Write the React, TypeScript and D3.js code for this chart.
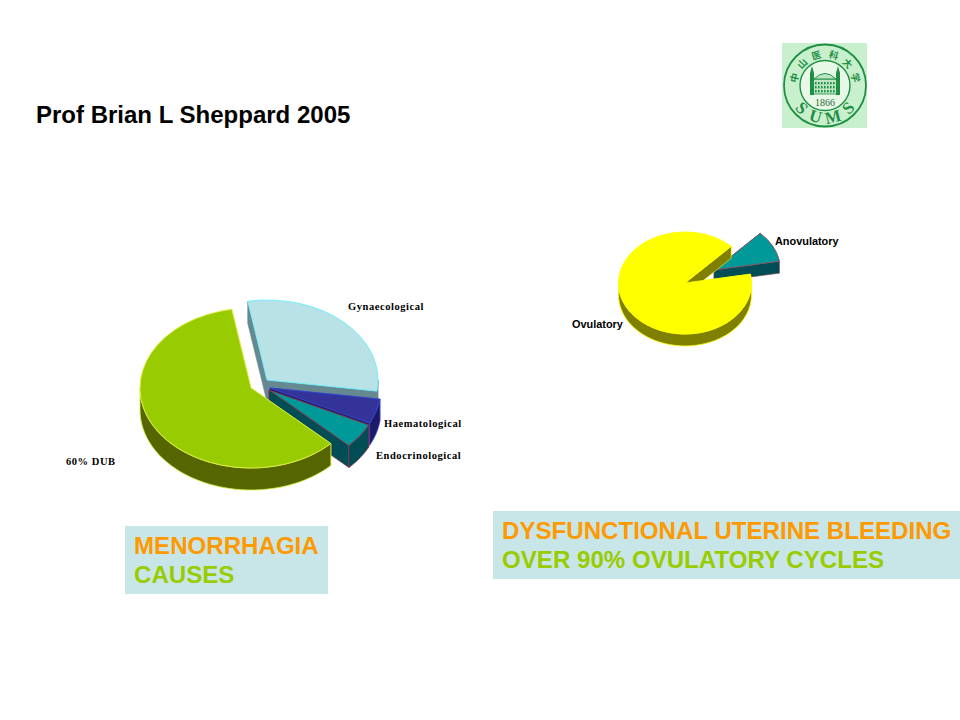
import * as d3 from 'd3';

// left pie
const causeLabels = ['Gynaecological', 'Haematological', 'Endocrinological', '60% DUB'];
const causeValues = [30, 5, 5, 60];
const causeShiftX = [16, 19, 18, 0];
const causeShiftY = [-8, 0, 2, 0];
const causeTop = ['#b8e2e6', '#333399', '#009999', '#99cc00'];
const causeSide = ['#668890', '#1a1a66', '#004d55', '#556600'];
const causeEdge = ['#66eeff', '#3344cc', '#8a3048', '#ddee44'];
const causeSideEdge = ['#668890', '#3344cc', '#8a3048', '#ddee44'];

// right pie
const cycleLabels = ['Anovulatory', 'Ovulatory'];
const cycleValues = [10, 90];
const cycleShiftX = [29, 0];
const cycleShiftY = [-13, 0];
const cycleTop = ['#009999', '#ffff00'];
const cycleSide = ['#004d55', '#808000'];
const cycleEdge = ['#8a5060', '#ffff00'];

// seal
const sealChars = ['中', '山', '医', '科', '大', '学'];
const sealCharAngles = [-76, -46, -16, 16, 46, 76];
const sealLetters = ['S', 'U', 'M', 'S'];
const sealLetterAngles = [46, 17, -14, -46];
const sealYear = '1866';

const deg = Math.PI / 180;

interface Pie3DProps {
  values: number[];
  shiftX: number[];
  shiftY: number[];
  top: string[];
  side: string[];
  edge: string[];
  sideEdge: string[];
  startDeg: number;
  cx: number;
  cy: number;
  rx: number;
  ry: number;
  depth: number;
}

const Pie3D = ({ values, shiftX, shiftY, top, side, edge, sideEdge, startDeg, cx, cy, rx, ry, depth }: Pie3DProps) => {
  const slices = d3
    .pie<number>()
    .sort(null)
    .startAngle(startDeg * deg)
    .endAngle((startDeg + 360) * deg)(values);
  const arc = d3.arc<d3.PieArcDatum<number>>().innerRadius(0).outerRadius(rx);
  const line = d3.line();

  return (
    <g>
      {slices.map((s, i) => {
        const ox = cx + shiftX[i];
        const oy = cy + shiftY[i];
        const at = (a: number, dz = 0): [number, number] => [
          ox + rx * Math.sin(a),
          oy - ry * Math.cos(a) + dz,
        ];
        const apex: [number, number] = [ox, oy];
        const apexLow: [number, number] = [ox, oy + depth];
        // the outer wall only shows on the front half of the ellipse
        const from = Math.max(s.startAngle, 90 * deg);
        const to = Math.min(s.endAngle, 270 * deg);
        const steps = d3.range(0, 41).map(k => from + ((to - from) * k) / 40);
        const rim =
          to > from
            ? line([...steps.map(a => at(a)), ...steps.slice().reverse().map(a => at(a, depth))]) + 'Z'
            : null;
        const wall = (a: number) => line([apex, at(a), at(a, depth), apexLow]) + 'Z';
        return (
          <g key={i}>
            <path d={wall(s.startAngle)} fill={side[i]} stroke={sideEdge[i]} strokeWidth={0.6} />
            <path d={wall(s.endAngle)} fill={side[i]} stroke={sideEdge[i]} strokeWidth={0.6} />
            {rim && <path d={rim} fill={side[i]} stroke={sideEdge[i]} strokeWidth={0.8} />}
            <g transform={`translate(${ox},${oy}) scale(1,${ry / rx})`}>
              <path
                d={arc(s) as string}
                fill={top[i]}
                stroke={edge[i]}
                strokeWidth={0.9}
                vectorEffect="non-scaling-stroke"
              />
            </g>
          </g>
        );
      })}
    </g>
  );
};

const logoCx = 825;
const logoCy = 85.5;

const Logo = () => {
  const green = '#1f8f45';
  const windowX = d3.range(815, 835, 3);
  const windowY = [82, 86, 90];
  return (
    <g>
      <rect x={782} y={43} width={85} height={85} fill="#c9f0cc" />
      <circle cx={logoCx} cy={logoCy} r={41} fill="none" stroke={green} strokeWidth={1.8} />
      <circle cx={logoCx} cy={logoCy} r={25} fill="#e8f8e6" stroke={green} strokeWidth={1.4} />
      {sealChars.map((c, i) => (
        <text
          key={i}
          x={logoCx}
          y={logoCy - 28}
          textAnchor="middle"
          fontFamily="'Noto Sans CJK SC'"
          fontSize={9.5}
          fontWeight={700}
          fill={green}
          transform={`rotate(${sealCharAngles[i]},${logoCx},${logoCy})`}
        >
          {c}
        </text>
      ))}
      {sealLetters.map((c, i) => (
        <text
          key={i}
          x={logoCx}
          y={logoCy + 38}
          textAnchor="middle"
          fontFamily="'Liberation Serif'"
          fontSize={17}
          fontWeight={700}
          fill={green}
          transform={`rotate(${sealLetterAngles[i]},${logoCx},${logoCy})`}
        >
          {c}
        </text>
      ))}
      {/* building */}
      <rect x={813} y={79} width={24} height={15} fill="#bfe6c2" stroke={green} strokeWidth={0.8} />
      {windowY.map(y =>
        windowX.map(x => <rect key={`${x}-${y}`} x={x} y={y} width={1.6} height={2.4} fill={green} />),
      )}
      <rect x={810} y={73} width={4} height={22} fill={green} />
      <rect x={836} y={73} width={4} height={22} fill={green} />
      <path d="M812,66L810,73H814ZM838,66L836,73H840Z" fill={green} />
      <path d="M814,79Q825,68 836,79Z" fill="#bfe6c2" stroke={green} strokeWidth={1} />
      <text
        x={logoCx}
        y={106}
        textAnchor="middle"
        fontFamily="'Liberation Serif'"
        fontSize={10}
        fill="#2a6a3a"
      >
        {sealYear}
      </text>
    </g>
  );
};

const serifLabel = {
  fontFamily: "'Liberation Serif'",
  fontSize: 10.5,
  fontWeight: 700,
  letterSpacing: 0.55,
};
const sansLabel = { fontFamily: "'Liberation Sans'", fontSize: 10.9, fontWeight: 700 };
const boxText = { fontFamily: "'Liberation Sans'", fontSize: 24.1, fontWeight: 700 };

const App = () => (
  <svg
    width={960}
    height={720}
    viewBox="0 0 960 720"
    style={{ position: 'absolute', left: 0, top: 0, background: '#fff' }}
  >
    <text x={36} y={123} fontFamily="'Liberation Sans'" fontSize={24} fontWeight={700} fill="#000">
      Prof Brian L Sheppard 2005
    </text>
    <Logo />

    <Pie3D
      values={causeValues}
      shiftX={causeShiftX}
      shiftY={causeShiftY}
      top={causeTop}
      side={causeSide}
      edge={causeEdge}
      sideEdge={causeSideEdge}
      startDeg={-10}
      cx={251}
      cy={388}
      rx={111}
      ry={80}
      depth={22}
    />
    <text x={348} y={310} {...serifLabel}>{causeLabels[0]}</text>
    <text x={384} y={427} {...serifLabel}>{causeLabels[1]}</text>
    <text x={376} y={459} {...serifLabel}>{causeLabels[2]}</text>
    <text x={66} y={465} {...serifLabel}>{causeLabels[3]}</text>

    <Pie3D
      values={cycleValues}
      shiftX={cycleShiftX}
      shiftY={cycleShiftY}
      top={cycleTop}
      side={cycleSide}
      edge={cycleEdge}
      sideEdge={cycleEdge}
      startDeg={44}
      cx={685}
      cy={283}
      rx={66.5}
      ry={51}
      depth={12}
    />
    <text x={775} y={245} {...sansLabel}>{cycleLabels[0]}</text>
    <text x={572} y={328} {...sansLabel}>{cycleLabels[1]}</text>

    <rect x={125} y={526} width={203} height={68} fill="#c8e6e8" />
    <text x={134} y={554} {...boxText} fill="#ff9900">MENORRHAGIA</text>
    <text x={134} y={583} {...boxText} fill="#99cc00">CAUSES</text>

    <rect x={493} y={511} width={467} height={68} fill="#c8e6e8" />
    <text x={502} y={539} {...boxText} fill="#ff9900">DYSFUNCTIONAL UTERINE BLEEDING</text>
    <text x={502} y={568} {...boxText} fill="#99cc00">OVER 90% OVULATORY CYCLES</text>
  </svg>
);

export default App;
